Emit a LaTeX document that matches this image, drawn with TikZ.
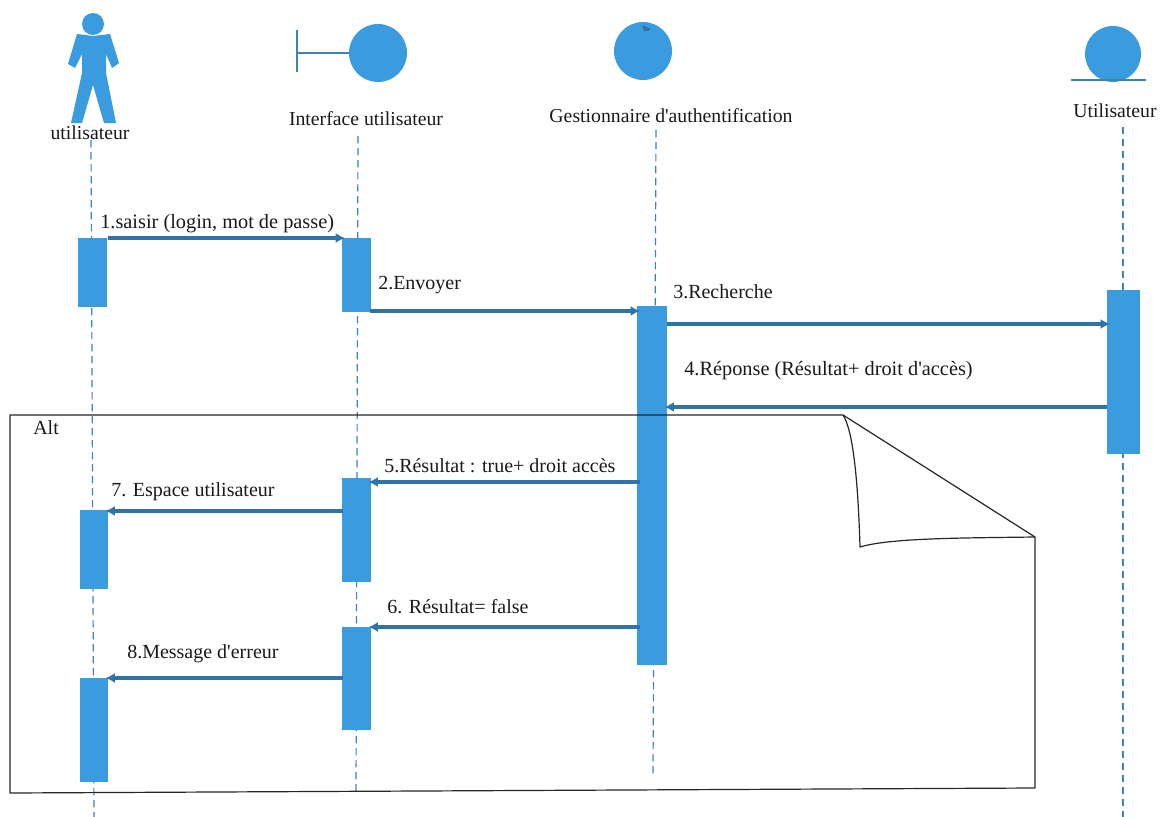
\documentclass[tikz,border=0pt]{standalone}
\usepackage{fontspec}
\newfontfamily\lblfont{Liberation Serif}
\usetikzlibrary{arrows.meta}
\definecolor{barblue}{HTML}{3A9BDF}
\definecolor{msgblue}{HTML}{2F74A8}
\definecolor{lifeblue}{HTML}{3F83B0}
\tikzset{
  bar/.style={fill=barblue,draw=none,inner sep=0pt,anchor=north west},
  icon/.style={fill=barblue,draw=none,circle,inner sep=0pt},
  lifeline/.style={draw=lifeblue,line width=0.9pt,dash pattern=on 5.5pt off 3.5pt},
  msg/.style={draw=msgblue,line width=2.3pt,shorten >=-2.25pt,-{Latex[length=7pt,width=7.5pt]}},
  lbl/.style={font=\lblfont\fontsize{15pt}{17pt}\selectfont,anchor=west,inner sep=0pt,text=black!90},
  lblwide/.style={lbl,font=\lblfont\fontsize{15.25pt}{17pt}\selectfont},
  head/.style={font=\lblfont\fontsize{14.8pt}{17pt}\selectfont,inner sep=0pt,text=black!90},
  framel/.style={draw=black!85,line width=0.9pt,line join=round}
}
\begin{document}
\begin{tikzpicture}[x=0.75pt,y=-0.75pt]
\useasboundingbox (0,0) rectangle (1164,817);
% lifelines
\coordinate (ut) at (91,140);
\coordinate (it) at (358,136);
\coordinate (gt) at (656,130);
\coordinate (et) at (1123,127);
\coordinate (ub) at (94,817);
\coordinate (ib) at (356,795);
\coordinate (gb) at (653,776);
\coordinate (eb) at (1123,817);
\draw[lifeline] (ut) -- (ub);
\draw[lifeline] (it) -- (ib);
\draw[lifeline] (gt) -- (gb);
\draw[lifeline] (et) -- (eb);
% bars
\node[bar,minimum width=21.75pt,minimum height=51.75pt] (u1) at (78,238) {};
\node[bar,minimum width=21pt,minimum height=59.25pt] (u2) at (80,510) {};
\node[bar,minimum width=21pt,minimum height=78pt] (u3) at (80,678) {};
\node[bar,minimum width=21.75pt,minimum height=55.5pt] (i1) at (342,238) {};
\node[bar,minimum width=21.75pt,minimum height=78pt] (i2) at (342,478) {};
\node[bar,minimum width=21.75pt,minimum height=77.25pt] (i3) at (342,627) {};
\node[bar,minimum width=22.5pt,minimum height=269.25pt] (g) at (637,306) {};
\node[bar,minimum width=24.75pt,minimum height=123pt] (e) at (1107,290) {};
% frame
\draw[framel] (10,415) -- (843,415) -- (1035,537) -- (1035,788) -- (10,793) -- cycle;
\draw[framel] (843,415) .. controls (853,430) and (858,480) .. (860,547) .. controls (890,538) and (960,538) .. (1035,537);
% actor
\node[icon,minimum size=16.5pt] (ahead) at (93,24) {};
\path[fill=barblue] (77,34) -- (93,36) -- (110,34) -- (119,63) -- (112,68) -- (106,54) -- (106,73) -- (116,123) -- (104,123) -- (93,85) -- (82,123) -- (71,123) -- (82,73) -- (82,54) -- (75,68) -- (68,64) -- cycle;
% boundary
\node[icon,minimum size=43.5pt] (bc) at (378,53) {};
\coordinate (bt) at (297,53);
\draw[lifeblue,line width=1pt] (bt) -- (bc);
\draw[lifeblue,line width=1pt] (297,30) -- (297,72);
% control
\node[icon,minimum size=43.5pt] (cc) at (643,51) {};
\path[fill=msgblue] (642,25) -- (651,29) -- (648,31) -- (644,31) -- cycle;
% entity
\node[icon,minimum size=42pt] (ec) at (1113,54) {};
\coordinate (el) at (1071,80);
\coordinate (er) at (1146,80);
\draw[lifeblue,line width=1pt] (el) -- (er);
% headers
\node[head] (h1) at (90,133) {utilisateur};
\node[head] (h2) at (366,119) {Interface utilisateur};
\node[head] (h3) at (671,116) {Gestionnaire d'authentification};
\node[head] (h4) at (1115,111) {Utilisateur};
% messages
\draw[msg] (u1.north east) -- (i1.north west);
\coordinate (m2) at (370,311);
\draw[msg] (m2) -- (g.west |- m2);
\coordinate (m3) at (667,324);
\draw[msg] (m3) -- (e.west |- m3);
\coordinate (m4) at (1107,407);
\draw[msg] (m4) -- (g.east |- m4);
\coordinate (m5) at (640,482);
\draw[msg] (m5) -- (i2.east |- m5);
\coordinate (m7) at (343,511);
\draw[msg] (m7) -- (u2.east |- m7);
\coordinate (m6) at (640,627);
\draw[msg] (m6) -- (i3.east |- m6);
\coordinate (m8) at (343,678);
\draw[msg] (m8) -- (u3.east |- m8);
% labels
\node[lblwide] (l1) at (100,224) {1.saisir (login, mot de passe)};
\node[lbl] (l2) at (378,285) {2.Envoyer};
\node[lbl] (l3) at (673,292) {3.Recherche};
\node[lblwide] (l4) at (684,371) {4.Réponse (Résultat+ droit d'accès)};
\node[lbl] (l5) at (384,466) {5.Résultat : true+ droit accès};
\node[lbl] (l7) at (111,492) {7. Espace utilisateur};
\node[lbl] (l6) at (387,607) {6. Résultat= false};
\node[lbl] (l8) at (127,654) {8.Message d'erreur};
\node[lbl] (alt) at (33,428) {Alt};
\end{tikzpicture}
\end{document}
